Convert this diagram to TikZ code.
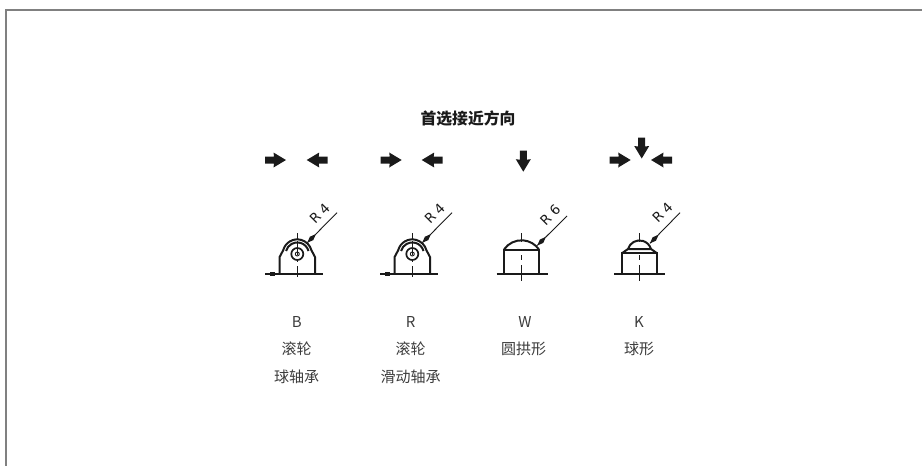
\documentclass[tikz,border=0pt]{standalone}
\usepackage{fontspec}
\setmainfont{Noto Sans CJK SC}
\newfontfamily\radiusfont{DejaVu Sans}
\definecolor{ink}{HTML}{1A1A1A}
\definecolor{framegray}{HTML}{808080}
\tikzset{
  x=1pt,y=-1pt,
  solid line/.style={draw=ink,line width=2pt,line join=miter},
  base line/.style={draw=ink,line width=1.7pt},
  thin line/.style={draw=ink,line width=0.9pt},
  centre line/.style={draw=ink,line width=0.9pt,dash pattern=on 9pt off 13pt on 5pt off 5pt on 16pt},
  label text/.style={font=\fontsize{15}{18}\selectfont,text=ink!85!white,inner sep=0pt,anchor=center},
  radius text/.style={font=\radiusfont\fontsize{13.5}{16}\selectfont,text=ink,inner sep=0pt,rotate=45,anchor=center},
  title text/.style={font=\bfseries\fontsize{15.8}{18}\selectfont,text=ink,inner sep=0pt,anchor=center},
  block arrow/.pic={\fill[ink] (-21,-3.5)--(-12,-3.5)--(-12.5,-7.5)--(0,0)--(-12.5,7.5)--(-12,3.5)--(-21,3.5)--cycle;},
  leader tip/.pic={\fill[ink] (0,0)--(-6,-2.4)--(-11,-0.5)--(-11,0.5)--(-6,2.4)--cycle;},
}
\begin{document}
\begin{tikzpicture}
\useasboundingbox (0,0) rectangle (922,466);
% frame
\draw[framegray,line width=1.5pt] (5.8,466)--(5.8,9.8)--(922,9.8);
% title
\node[title text] (title) at (468,118) {首选接近方向};
% block arrows
\pic at (286,160) {block arrow};
\pic[rotate=180] at (306.7,160) {block arrow};
\pic at (401.7,160) {block arrow};
\pic[rotate=180] at (421.7,160) {block arrow};
\pic[rotate=-90] at (523.3,171.7) {block arrow};
\pic at (630.7,160) {block arrow};
\pic[rotate=180] at (651,160) {block arrow};
\pic[rotate=-90] at (641.7,158.5) {block arrow};
% roller figures
\foreach \dx/\nm in {0/B,115/R}{
\begin{scope}[xshift=\dx pt]
  \coordinate (c\nm) at (297.3,254);
  \draw[base line] (265,274)--(322.7,274);
  \fill[ink] (270,272.4) rectangle (275,275.6);
  \draw[solid line] (279.6,274)--(279.6,257)--(283.2,250.2) arc[start angle=165,end angle=15,radius=14.6pt]--(315,257)--(315,274);
  \draw[solid line] (c\nm)++(-11.2,-3) arc[start angle=165,end angle=15,radius=11.6pt];
  \fill[white] (c\nm) circle[radius=6pt];
  \draw[draw=ink,line width=1.7pt] (c\nm) circle[radius=6pt];
  \draw[thin line] (c\nm) circle[radius=2pt];
  \draw[thin line,dash pattern=on 6pt off 2pt on 14pt off 4pt on 3pt off 4pt on 11pt] (297.3,233)--(297.3,282);
  \coordinate (l\nm a) at (337,212.7);
  \coordinate (l\nm b) at (307.3,242.7);
  \draw[thin line] (l\nm a)--(l\nm b);
  \pic[rotate=-135] at (l\nm b) {leader tip};
  \node[radius text] (r\nm) at (319.7,213.7) {R\kern4pt 4};
\end{scope}
}
% dome W
\draw[base line] (496.7,274)--(547.7,274);
\draw[solid line] (504,274)--(504,249.5)--(539,249.5)--(539,274);
\draw[solid line] (504,249.5) arc[start angle=145.6,end angle=34.4,radius=21.2pt];
\draw[centre line] (521.3,233)--(521.3,281);
\coordinate (lWa) at (567,216);
\coordinate (lWb) at (537.3,245.5);
\draw[thin line] (lWa)--(lWb);
\pic[rotate=-135] at (lWb) {leader tip};
\node[radius text] (rW) at (550.2,215.2) {R\kern4pt 6};
% ball K
\draw[base line] (614,274)--(665,274);
\draw[solid line] (622.3,274)--(622.3,253)--(656.7,253)--(656.7,274);
\draw[solid line] (622.3,253)--(628,249)--(651,249)--(656.7,253);
\draw[solid line] (628,249) arc[start angle=163.4,end angle=16.6,radius=12pt];
\draw[centre line] (639.3,233)--(639.3,281);
\coordinate (lKa) at (680,212.7);
\coordinate (lKb) at (650,243.3);
\draw[thin line] (lKa)--(lKb);
\pic[rotate=-135] at (lKb) {leader tip};
\node[radius text] (rK) at (662.5,212.5) {R\kern4pt 4};
% labels
\node[label text] (b1) at (296.7,321.5) {B};
\node[label text] (b2) at (296.7,349) {滚轮};
\node[label text] (b3) at (296.7,376.5) {球轴承};
\node[label text] (r1) at (410.7,321.5) {R};
\node[label text] (r2) at (410.7,349) {滚轮};
\node[label text] (r3) at (410.7,376.5) {滑动轴承};
\node[label text] (w1) at (525,321.5) {W};
\node[label text] (w2) at (523.5,349) {圆拱形};
\node[label text] (k1) at (639,321.5) {K};
\node[label text] (k2) at (639,349) {球形};
\end{tikzpicture}
\end{document}
